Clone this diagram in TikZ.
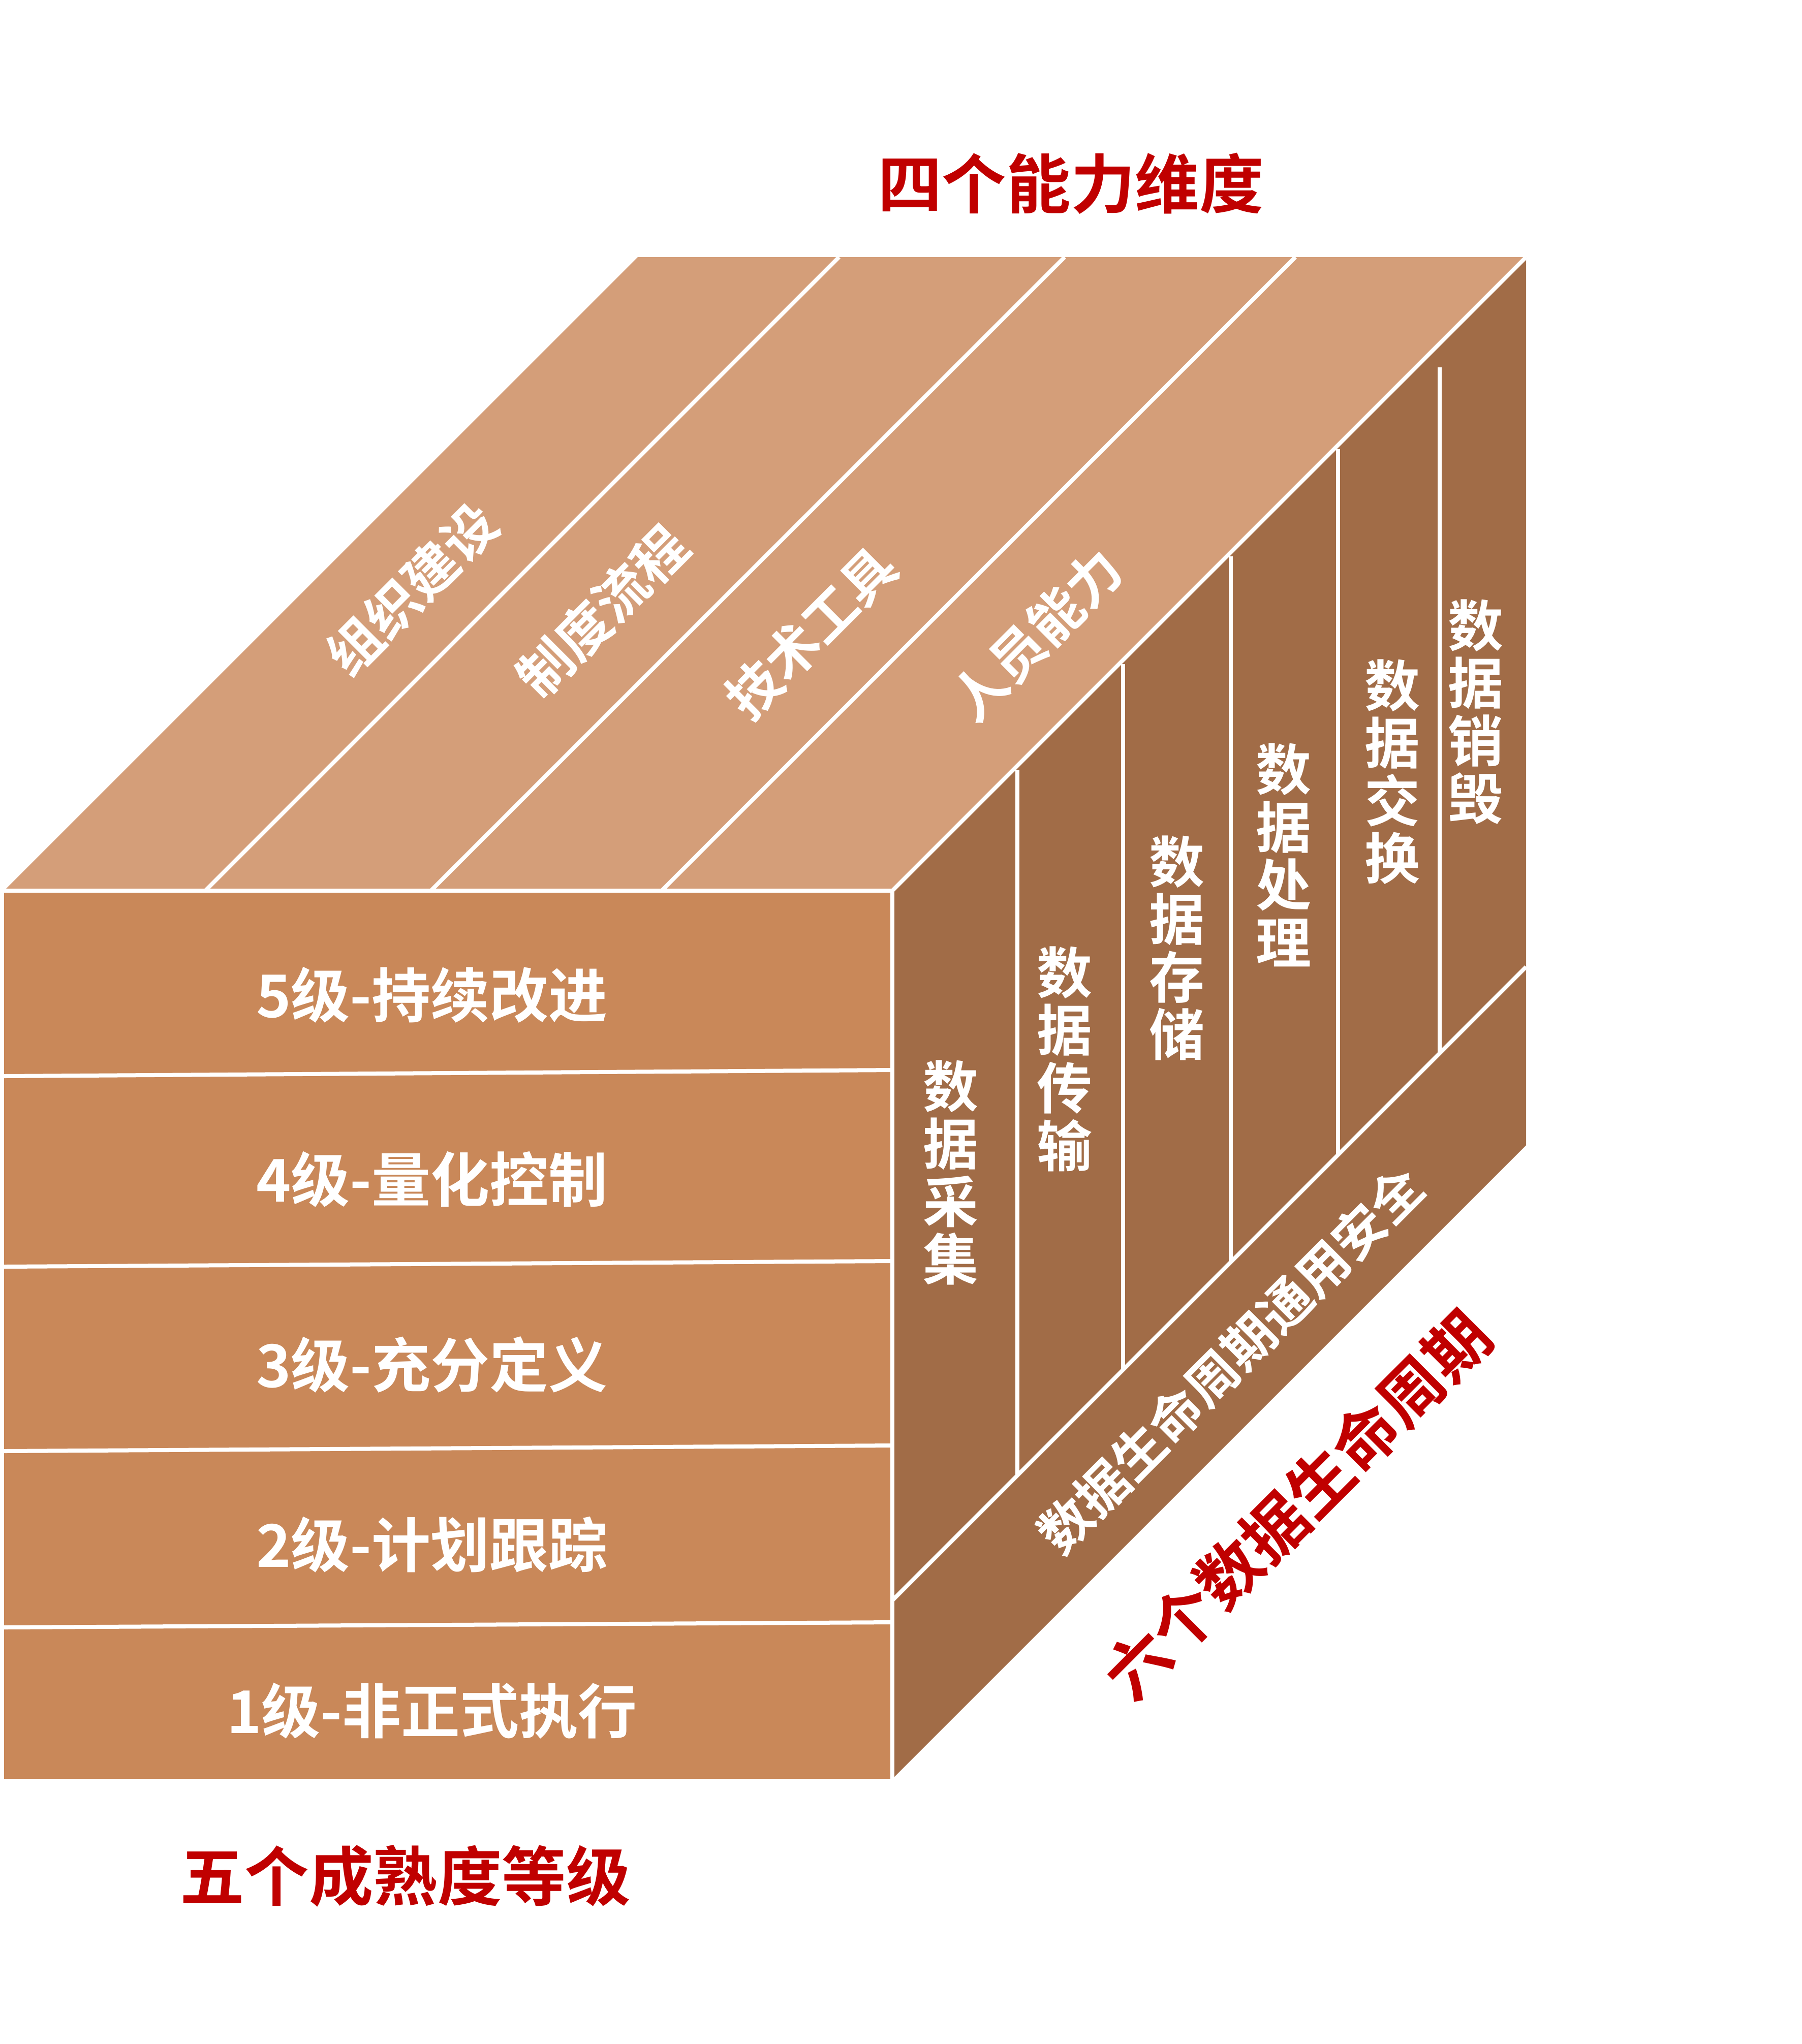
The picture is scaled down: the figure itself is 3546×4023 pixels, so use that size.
\documentclass[tikz,border=0pt]{standalone}
\usepackage{fontspec}
\setmainfont{Noto Sans CJK SC}[BoldFont={Noto Sans CJK SC Bold}]

\definecolor{topbrown}{RGB}{212,158,121}
\definecolor{frontbrown}{RGB}{201,136,89}
\definecolor{sidebrown}{RGB}{161,108,71}
\definecolor{titlered}{RGB}{192,0,0}

\begin{document}
\begin{tikzpicture}[x=0.01cm, y=-0.01cm,
    seam/.style={draw=white, line width=0.08cm},
    levellabel/.style={text=white, inner sep=0pt, font=\fontsize{33}{36}\selectfont\bfseries},
    toplabel/.style={text=white, inner sep=0pt, rotate=45, font=\fontsize{30}{33}\selectfont\bfseries},
    stagelabel/.style={text=white, inner sep=0pt, align=center, font=\fontsize{31}{32.3}\selectfont\bfseries},
    dimlabel/.style={text=titlered, inner sep=0pt, font=\fontsize{36}{40}\selectfont\bfseries}]
\useasboundingbox (0,0) rectangle (3546,4023);

% 立方体的角点
\coordinate (A) at (8,1753);     % 正面左上
\coordinate (B) at (1756,1753);  % 正面右上
\coordinate (C) at (1756,3501);  % 正面右下
\coordinate (D) at (8,3501);     % 正面左下
\coordinate (Ab) at (1255,506);
\coordinate (Bb) at (3003,506);
\coordinate (Cb) at (3003,2254);

% 三个面
\fill[frontbrown] (A) -- (B) -- (C) -- (D) -- cycle;
\fill[topbrown] (A) -- (Ab) -- (Bb) -- (B) -- cycle;
\fill[sidebrown] (B) -- (Bb) -- (Cb) -- (C) -- cycle;
\draw[seam] (A) -- (B) -- (C);
\draw[seam] (B) -- (Bb);

% 正面: 五个成熟度等级
\draw[seam] (8,2118) -- (1756,2106);
\draw[seam] (8,2493) -- (1756,2482);
\draw[seam] (8,2856) -- (1756,2845);
\draw[seam] (8,3203) -- (1756,3193);

\node[levellabel] (lvl5) at (850,1958) {5级-持续改进};
\node[levellabel] (lvl4) at (850,2321) {4级-量化控制};
\node[levellabel] (lvl3) at (850,2686) {3级-充分定义};
\node[levellabel] (lvl2) at (850,3040) {2级-计划跟踪};
\node[levellabel] (lvl1) at (850,3367) {1级-非正式执行};

% 顶面: 四个能力维度
\draw[seam] (404,1753) -- (1651,506);
\draw[seam] (848,1753) -- (2095,506);
\draw[seam] (1302,1753) -- (2549,506);

\node[toplabel] (org) at (810,1160) {组织建设};
\node[toplabel] (proc) at (1185,1203) {制度流程};
\node[toplabel] (tool) at (1596,1245) {技术工具};
\node[toplabel] (staff) at (2040,1249) {人员能力};

% 侧面: 六个数据生命周期 + 通用安全
\draw[seam] (1756,3150) -- (3003,1903);
\draw[seam] (2002,1515) -- (2002,2904);
\draw[seam] (2210,1307) -- (2210,2696);
\draw[seam] (2422,1095) -- (2422,2484);
\draw[seam] (2633,884) -- (2633,2273);
\draw[seam] (2833,723) -- (2833,2073);

\node[stagelabel] (collect) at (1871,2308) {数\\据\\采\\集};
\node[stagelabel] (transfer) at (2095,2084) {数\\据\\传\\输};
\node[stagelabel] (store) at (2316,1866) {数\\据\\存\\储};
\node[stagelabel] (handle) at (2526,1683) {数\\据\\处\\理};
\node[stagelabel] (exchange) at (2740,1519) {数\\据\\交\\换};
\node[stagelabel] (destroy) at (2904,1401) {数\\据\\销\\毁};

\node[toplabel, font=\fontsize{29}{32}\selectfont\bfseries] (security) at (2421,2676) {数据生命周期通用安全};

% 维度标题
\node[dimlabel] (dimcap) at (2107,361) {四个能力维度};
\node[dimlabel] (dimlvl) at (798,3692) {五个成熟度等级};
\node[dimlabel, rotate=45] (dimlife) at (2552,2961) {六个数据生命周期};
\end{tikzpicture}
\end{document}
